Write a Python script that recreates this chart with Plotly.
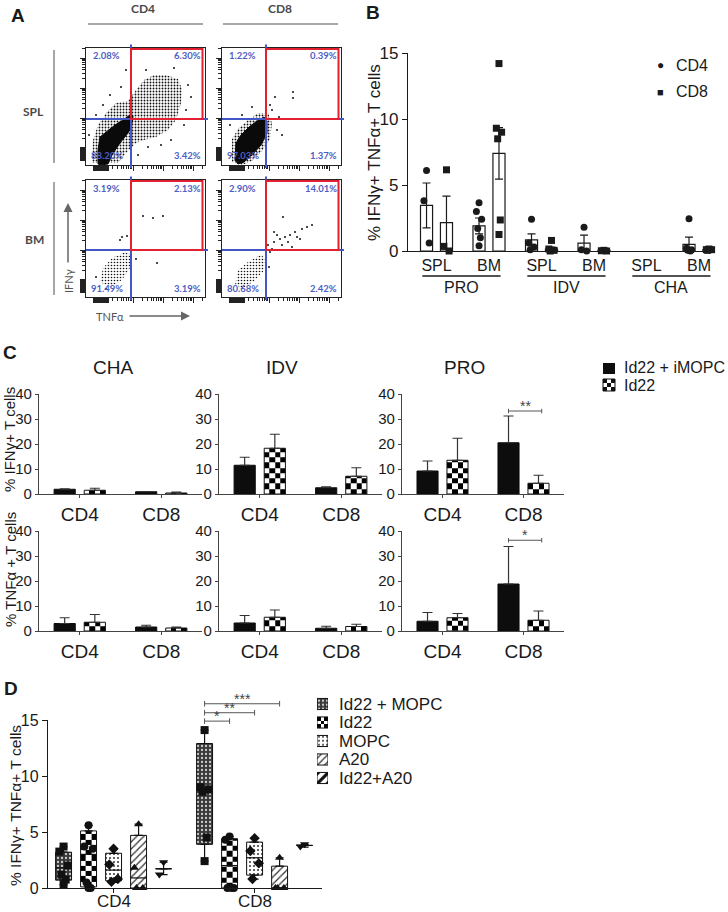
import math
import plotly.graph_objects as go

W, H = 728, 912
FONT = "Liberation Sans, Arial, Helvetica, sans-serif"
AFONT = "Lato, Open Sans, sans-serif"
INK = "#1a1a1a"
BLUE = "#4257c4"
RED = "#e3202f"

# ======================= DATA =======================
# ---- Panel A: flow plots (plot-local units, x 0-119, y 0-117) ----
flow_names = ["SPL CD4", "SPL CD8", "BM CD4", "BM CD8"]
quad_pct = [
    ["2.08%", "6.30%", "88.20%", "3.42%"],
    ["1.22%", "0.39%", "97.03%", "1.37%"],
    ["3.19%", "2.13%", "91.49%", "3.19%"],
    ["2.90%", "14.01%", "80.68%", "2.42%"],
]
gate_x = [45, 44, 45, 44]
gate_y = [46, 46, 47, 47]
core_x = [
    [12, 12, 14, 21, 29, 37, 44, 47, 46, 42, 34, 26, 22, 15],
    [13, 14, 19, 27, 35, 42, 45, 45, 39, 30, 22, 16],
    [],
    [],
]
core_y = [
    [1, 15, 28, 34, 40, 45, 50, 49, 42, 32, 22, 10, 1, 0],
    [5, 22, 30, 38, 44, 48, 44, 32, 20, 10, 3, 1],
    [],
    [],
]
halo_x = [
    [6, 7, 12, 20, 30, 42, 50, 58, 68, 80, 92, 96, 95, 90, 82, 70, 58, 50, 40, 32],
    [10, 10, 16, 26, 36, 46, 50, 48, 40, 30, 20],
    [14, 17, 26, 39, 46, 44, 36, 24],
    [13, 16, 26, 38, 44, 41, 31, 21],
]
halo_y = [
    [2, 25, 40, 52, 62, 64, 75, 85, 90, 90, 86, 76, 62, 45, 35, 28, 25, 22, 12, 2],
    [3, 26, 36, 45, 52, 52, 42, 26, 14, 4, 0],
    [15, 29, 39, 45, 42, 29, 17, 10],
    [12, 27, 35, 42, 39, 25, 15, 9],
]
dots_x = [
    [10, 17, 24, 35, 100, 98, 85, 62, 52, 40, 60, 88, 102, 75, 105, 3],
    [53, 71, 71, 8, 20, 50, 55, 60, 48, 30, 57],
    [57, 67, 77, 34, 36, 71, 41, 48, 10, 50, 20, 45],
    [46, 52, 58, 63, 68, 73, 50, 60, 66, 75, 55, 48, 70, 80, 61, 85, 78, 52, 90, 44, 47],
]
dots_y = [
    [50, 60, 70, 78, 55, 40, 25, 18, 10, 95, 95, 97, 80, 20, 68, 30],
    [68, 73, 67, 40, 50, 55, 35, 30, 60, 58, 48],
    [81, 79, 81, 57, 60, 34, 61, 47, 20, 38, 8, 50],
    [52, 55, 58, 60, 62, 65, 48, 52, 55, 60, 62, 45, 50, 68, 80, 70, 58, 65, 72, 36, 30],
]

# ---- Panel B ----
b_cats = ["SPL", "BM", "SPL", "BM", "SPL", "BM"]
b_groups = ["PRO", "IDV", "CHA"]
b_cd4_mean = [3.45, 1.9, 0.85, 0.6, None, 0.5]
b_cd4_sem = [1.7, 0.6, 0.45, 0.6, None, 0.55]
b_cd8_mean = [2.15, 7.4, 0.15, 0.05, None, 0.1]
b_cd8_sem = [2.0, 1.95, 0.15, 0.03, None, 0.05]
b_cd4_pts = [[6.1, 3.8, 0.6], [3.65, 3.0, 2.4, 1.7, 1.0, 0.4], [2.4, 0.6, 0.3, 0.1],
             [1.8, 0.1, 0.0], [], [2.45, 0.2, 0.1, 0.05, 0.0]]
b_cd8_pts = [[6.15, 0.35, 0.0], [14.2, 9.3, 9.0, 8.5, 2.35, 1.25], [0.8, 0.15, 0.05, 0.0],
             [0.05, 0.02, 0.0], [], [0.15, 0.1, 0.1, 0.05]]

# ---- Panel C ----
c_panels = ["CHA", "IDV", "PRO"]
c_cells = ["CD4", "CD8"]
c_series = ["Id22 + iMOPC", "Id22"]
c_ifn_black = [[1.9, 0.9], [11.5, 2.5], [9.2, 20.5]]
c_ifn_black_sd = [[0.2, 0.05], [3.2, 0.4], [4.0, 10.7]]
c_ifn_check = [[1.5, 0.4], [18.3, 7.1], [13.5, 4.3]]
c_ifn_check_sd = [[0.8, 0.4], [5.6, 3.4], [8.8, 3.2]]
c_tnf_black = [[3.0, 1.6], [3.2, 1.1], [3.9, 18.8]]
c_tnf_black_sd = [[2.3, 0.7], [3.0, 0.8], [3.5, 15.0]]
c_tnf_check = [[3.5, 1.2], [5.5, 1.8], [5.3, 4.3]]
c_tnf_check_sd = [[3.1, 0.4], [2.9, 0.9], [1.7, 3.7]]
c_sig_label = ["**", "*"]
c_sig_y = [33.2, 36.3]

# ---- Panel D ----
d_groups = ["CD4", "CD8"]
d_conds = ["Id22 + MOPC", "Id22", "MOPC", "A20", "Id22+A20"]
d_min = [[0.3, 0.0, 0.5, 0.0, 1.2], [2.4, 0.0, 0.8, 0.0, 3.65]]
d_q1 = [[0.7, 0.1, 0.65, 0.0, 1.72], [3.9, 0.0, 1.15, 0.0, 3.8]]
d_med = [[1.8, 3.0, 1.6, 0.9, 1.72], [8.8, 2.0, 2.7, 0.0, 3.8]]
d_q3 = [[3.2, 5.1, 3.1, 4.7, 1.72], [12.9, 4.4, 4.1, 1.95, 3.8]]
d_max = [[3.7, 5.6, 3.5, 5.7, 2.3], [14.1, 4.6, 4.45, 2.7, 3.9]]
d_pts = [
    [[3.7, 3.25, 2.0, 1.2, 0.75, 0.3], [5.6, 3.7, 3.5, 0.5, 0.0, 0.0], [3.5, 2.1, 0.8, 0.55],
     [5.7, 1.8, 0.0, 0.0], [2.3, 1.2]],
    [[14.1, 9.0, 8.8, 8.6, 4.5, 2.4], [4.6, 4.3, 0.0, 0.0, 0.0], [4.45, 3.3, 2.2, 0.8],
     [2.7, 0.0, 0.0, 0.0], [3.9, 3.7]],
]
d_sig_to = [1, 2, 3]
d_sig_label = ["*", "**", "***"]
d_sig_y = [14.9, 15.65, 16.45]

# ======================= HELPERS =======================
traces, annotations, shapes = [], [], []
layout = dict(template="none", width=W, height=H, margin=dict(l=0, r=0, t=0, b=0, pad=0),
              autosize=False, paper_bgcolor="white", plot_bgcolor="rgba(0,0,0,0)",
              showlegend=False, font=dict(family=FONT, color=INK))


def px_x(p):
    return p / W


def px_y(p):
    return 1 - p / H


def make_axes(n, left, right, top, bottom, xa, ya):
    xk = "xaxis" if n == 1 else f"xaxis{n}"
    yk = "yaxis" if n == 1 else f"yaxis{n}"
    xr = "x" if n == 1 else f"x{n}"
    yr = "y" if n == 1 else f"y{n}"
    layout[xk] = dict(domain=[px_x(left), px_x(right)], anchor=yr, showgrid=False,
                      zeroline=False, fixedrange=True, automargin=False, **xa)
    layout[yk] = dict(domain=[px_y(bottom), px_y(top)], anchor=xr, showgrid=False,
                      zeroline=False, fixedrange=True, automargin=False, **ya)
    return xr, yr


def txt(px, py, s, size, anchor="center", color=INK, family=FONT, bold=False, angle=0):
    annotations.append(dict(x=px_x(px), y=px_y(py), xref="paper", yref="paper",
                            text=f"<b>{s}</b>" if bold else s, showarrow=False,
                            xanchor=anchor, yanchor="middle", textangle=angle,
                            font=dict(size=size, color=color, family=family)))


def checker(xc, w, base, top, ncol, cell_h, xr, yr):
    if top is None or top - base <= 1e-9:
        return
    xe = [xc - w / 2 + w * i / ncol for i in range(ncol + 1)]
    ye = [base]
    while ye[-1] + cell_h < top - 1e-6:
        ye.append(ye[-1] + cell_h)
    ye.append(top)
    z = [[(r + c) % 2 for c in range(ncol)] for r in range(len(ye) - 1)]
    traces.append(go.Heatmap(x=xe, y=ye, z=z, xaxis=xr, yaxis=yr, zmin=0, zmax=1,
                             colorscale=[[0, "white"], [1, "black"]], showscale=False,
                             hoverinfo="skip"))


# ======================= PANEL A =======================
flow_boxes = [(86, 205, 48, 165), (222, 341, 48, 165), (86, 205, 180, 297), (222, 341, 180, 297)]
halo_density = [0.3, 0.3, 0.22, 0.22]
FX, FY = 119, 117
majors = [47, 77, 107]
minors = [d + 30 * math.log10(k) for d in (17, 47, 77, 107) for k in range(2, 10)
          if d + 30 * math.log10(k) <= FX]


def flow_axis(rng, block):
    return dict(range=rng, showline=True, mirror=True, linecolor="#222", linewidth=1,
                ticks="outside", ticklen=5, tickwidth=1, tickcolor="#222",
                tickvals=majors + block, showticklabels=False,
                minor=dict(tickvals=minors, ticks="outside", ticklen=3, tickwidth=1,
                           tickcolor="#222"))


for i in range(4):
    xr, yr = make_axes(i + 1, *flow_boxes[i],
                       xa=flow_axis([0, FX], list(range(7, 23))),
                       ya=flow_axis([0, FY], list(range(5, 19))))
    hx, hy = halo_x[i], halo_y[i]
    traces.append(go.Scatter(x=hx + hx[:1], y=hy + hy[:1], xaxis=xr, yaxis=yr, mode="lines",
                             fill="toself", line=dict(width=0, color="rgba(0,0,0,0)"),
                             fillcolor="rgba(0,0,0,0)",
                             fillpattern=dict(shape=".", fgcolor="#111", fgopacity=1,
                                              bgcolor="rgba(0,0,0,0)", size=3,
                                              solidity=halo_density[i]),
                             hoverinfo="skip"))
    if core_x[i]:
        cx, cy = core_x[i], core_y[i]
        traces.append(go.Scatter(x=cx + cx[:1], y=cy + cy[:1], xaxis=xr, yaxis=yr, mode="lines",
                                 fill="toself", fillcolor="#0a0a0a",
                                 line=dict(width=1, color="#0a0a0a"), hoverinfo="skip"))
    traces.append(go.Scatter(x=dots_x[i], y=dots_y[i], xaxis=xr, yaxis=yr, mode="markers",
                             marker=dict(size=2, color="#111"), hoverinfo="skip"))
    gx, gy = gate_x[i], gate_y[i]
    shapes.append(dict(type="line", xref=xr, yref=f"{yr} domain", x0=gx, x1=gx, y0=-0.025,
                       y1=1.03, line=dict(color=BLUE, width=2)))
    shapes.append(dict(type="line", xref=f"{xr} domain", yref=yr, x0=0, x1=1.025, y0=gy,
                       y1=gy, line=dict(color=BLUE, width=2)))
    shapes.append(dict(type="rect", xref=xr, yref=yr, x0=gx, x1=FX - 2.5, y0=gy, y1=FY - 1,
                       line=dict(color=RED, width=2)))
    pf = dict(size=9.5, color="#4d5ec4", family=AFONT)
    for (lx, ly, anc), s in zip([(20, 109, "center"), (117, 109, "right"),
                                 (3, 9, "left"), (117, 9, "right")], quad_pct[i]):
        annotations.append(dict(x=lx, y=ly, xref=xr, yref=yr, text=f"<b>{s}</b>",
                                showarrow=False, xanchor=anc, yanchor="middle", font=pf))

txt(18, 15, "A", 19, bold=True)
txt(143, 9, "CD4", 12, color="#4a4a4a", family=AFONT, bold=True)
txt(280, 9, "CD8", 12, color="#4a4a4a", family=AFONT, bold=True)
txt(33, 111, "SPL", 12, color="#4a4a4a", family=AFONT, bold=True)
txt(34, 240, "BM", 12, color="#4a4a4a", family=AFONT, bold=True)
txt(68, 281, "IFNγ", 11, color="#555", family=AFONT, angle=-90)
txt(110, 316, "TNFα", 11, color="#555", family=AFONT)
for (x0, y0, x1, y1) in [(88, 24, 203, 24), (223, 24, 338, 24), (54, 50, 54, 163), (54, 182, 54, 295)]:
    shapes.append(dict(type="line", xref="paper", yref="paper", x0=px_x(x0), y0=px_y(y0),
                       x1=px_x(x1), y1=px_y(y1), line=dict(color="#8a8a8a", width=1.5)))
annotations.append(dict(x=px_x(68), y=px_y(203), ax=0, ay=61, xref="paper",
                        yref="paper", axref="pixel", ayref="pixel", text="", showarrow=True,
                        arrowhead=2, arrowsize=1.2, arrowwidth=1.5, arrowcolor="#666"))
annotations.append(dict(x=px_x(190), y=px_y(316), ax=-62, ay=0, xref="paper",
                        yref="paper", axref="pixel", ayref="pixel", text="", showarrow=True,
                        arrowhead=2, arrowsize=1.2, arrowwidth=1.5, arrowcolor="#666"))

# ======================= PANEL B =======================
xr, yr = make_axes(5, 408, 715, 53, 251,
                   xa=dict(range=[-0.543, 5.305], showline=True, linecolor=INK, linewidth=1.3,
                           ticks="", tickvals=list(range(6)), ticktext=b_cats,
                           tickfont=dict(size=16)),
                   ya=dict(range=[0, 15], showline=True, linecolor=INK, linewidth=1.3,
                           ticks="outside", ticklen=5, tickcolor=INK, tickvals=[0, 5, 10, 15],
                           tickfont=dict(size=17)))
off_b = 0.19
b_jit = [0.0, -0.05, 0.05, -0.025, 0.025, 0.0]
for means, sems, pts, sign, sym in [(b_cd4_mean, b_cd4_sem, b_cd4_pts, -1, "circle"),
                                    (b_cd8_mean, b_cd8_sem, b_cd8_pts, 1, "square")]:
    xs = [i + sign * off_b for i in range(len(b_cats))]
    traces.append(go.Bar(x=xs, y=means, width=0.23, xaxis=xr, yaxis=yr,
                         marker=dict(color="white", line=dict(color=INK, width=1.2)),
                         error_y=dict(type="data", array=sems, color=INK, thickness=1.2, width=4),
                         hoverinfo="skip"))
    px_, py_ = [], []
    for i, plist in enumerate(pts):
        for j, v in enumerate(plist):
            px_.append(xs[i] + b_jit[j % len(b_jit)])
            py_.append(v)
    traces.append(go.Scatter(x=px_, y=py_, xaxis=xr, yaxis=yr, mode="markers", cliponaxis=False,
                             marker=dict(symbol=sym, size=7, color=INK), hoverinfo="skip"))
for g, name in enumerate(b_groups):
    shapes.append(dict(type="line", xref=xr, yref="paper", x0=2 * g - 0.27, x1=2 * g + 1.22,
                       y0=px_y(276), y1=px_y(276), line=dict(color=INK, width=1.3)))
    annotations.append(dict(x=2 * g + 0.47, y=px_y(287), xref=xr, yref="paper", text=name,
                            showarrow=False, xanchor="center", yanchor="middle",
                            font=dict(size=16, color=INK)))
txt(373, 13, "B", 19, bold=True)
txt(375, 152, "% IFNγ+ TNFα+ T cells", 17, angle=-90)
txt(660, 65, "●", 12)
txt(660, 92, "■", 11)
txt(674, 65, "CD4", 16, anchor="left")
txt(674, 92, "CD8", 16, anchor="left")

# ======================= PANEL C =======================
c_cols = [(39, 202), (219, 382), (402, 564)]
c_rows = [(394, 494), (531, 631)]
off_c, w_c = 0.185, 0.26
c_data = [(c_ifn_black, c_ifn_black_sd, c_ifn_check, c_ifn_check_sd),
          (c_tnf_black, c_tnf_black_sd, c_tnf_check, c_tnf_check_sd)]
for r in range(2):
    for c in range(3):
        n = 6 + r * 3 + c
        xr, yr = make_axes(n, c_cols[c][0], c_cols[c][1], c_rows[r][0], c_rows[r][1],
                           xa=dict(range=[-0.5, 1.5], showline=True, linecolor="#444",
                                   linewidth=1.3, ticks="outside", ticklen=3, tickcolor="#444",
                                   tickvals=[0, 1], ticktext=c_cells, tickfont=dict(size=19)),
                           ya=dict(range=[0, 40], showline=True, linecolor="#444",
                                   linewidth=1.3, ticks="outside", ticklen=3, tickcolor="#444",
                                   tickvals=[0, 10, 20, 30, 40], tickfont=dict(size=15)))
        blk, blk_sd, chk, chk_sd = c_data[r]
        xb = [k - off_c for k in range(2)]
        xc = [k + off_c for k in range(2)]
        for k in range(2):
            checker(xc[k], w_c, 0, chk[c][k], 4, 2.1, xr, yr)
        traces.append(go.Bar(x=xb, y=blk[c], width=w_c, xaxis=xr, yaxis=yr,
                             marker=dict(color="#0d0d0d", line=dict(color="#0d0d0d", width=1)),
                             error_y=dict(type="data", symmetric=False, array=blk_sd[c],
                                          arrayminus=[0, 0], color="#333", thickness=1.2, width=5),
                             hoverinfo="skip"))
        traces.append(go.Bar(x=xc, y=chk[c], width=w_c, xaxis=xr, yaxis=yr,
                             marker=dict(color="rgba(0,0,0,0)", line=dict(color="#111", width=1)),
                             error_y=dict(type="data", symmetric=False, array=chk_sd[c],
                                          arrayminus=[0, 0], color="#333", thickness=1.2, width=5),
                             hoverinfo="skip"))
        if c == 2:
            yv = c_sig_y[r]
            x0, x1 = xb[1], xc[1] + 0.04
            traces.append(go.Scatter(x=[x0, x0, None, x0, x1, None, x1, x1],
                                     y=[yv - 0.9, yv + 0.9, None, yv, yv, None, yv - 0.9, yv + 0.9],
                                     xaxis=xr, yaxis=yr, mode="lines", cliponaxis=False,
                                     line=dict(color="#555", width=1), hoverinfo="skip"))
            annotations.append(dict(x=(x0 + x1) / 2, y=yv, xref=xr, yref=yr, text=c_sig_label[r],
                                    showarrow=False, xanchor="center", yanchor="bottom", yshift=-5,
                                    font=dict(size=14, color="#444")))
txt(10, 352, "C", 19, bold=True)
txt(113, 367, "CHA", 19)
txt(282, 367, "IDV", 19)
txt(465, 367, "PRO", 19)
txt(10, 440, "% IFNγ+ T cells", 15, angle=-90)
txt(10, 570, "% TNFα + T cells", 15, angle=-90)
# legend C
shapes.append(dict(type="rect", xref="paper", yref="paper", x0=px_x(603), x1=px_x(615),
                   y0=px_y(374), y1=px_y(363), fillcolor="#0d0d0d", line=dict(width=0)))
for rr in range(3):
    for cc in range(3):
        if (rr + cc) % 2 == 0:
            shapes.append(dict(type="rect", xref="paper", yref="paper",
                               x0=px_x(603 + 4 * cc), x1=px_x(607 + 4 * cc),
                               y0=px_y(383 + 4 * rr), y1=px_y(379 + 4 * rr),
                               fillcolor="#111", line=dict(width=0)))
shapes.append(dict(type="rect", xref="paper", yref="paper", x0=px_x(603), x1=px_x(615),
                   y0=px_y(391), y1=px_y(379), line=dict(color="#111", width=1)))
txt(622, 368, c_series[0], 16, anchor="left")
txt(622, 385, c_series[1], 16, anchor="left")

# ======================= PANEL D =======================
D_YMAX = 15
xr, yr = make_axes(12, 48, 322, 720, 888,
                   xa=dict(range=[-0.465, 1.478], showline=True, linecolor=INK, linewidth=1.3,
                           ticks="outside", ticklen=4, tickcolor=INK, tickvals=[0, 1],
                           showticklabels=False),
                   ya=dict(range=[0, D_YMAX], showline=True, linecolor=INK, linewidth=1.3,
                           ticks="outside", ticklen=5, tickcolor=INK, tickvals=[0, 5, 10, 15],
                           tickfont=dict(size=16)))
for g, name in enumerate(d_groups):
    annotations.append(dict(x=g, y=px_y(901), xref=xr, yref="paper", text=name, showarrow=False,
                            xanchor="center", yanchor="middle", font=dict(size=17, color=INK)))
d_step, d_w = 0.1773, 0.113
d_pat = [dict(shape=".", fillmode="replace", bgcolor="#3a3a3a", fgcolor="#cfcfcf", size=4, solidity=0.25),
         None,
         dict(shape=".", fillmode="replace", bgcolor="white", fgcolor="#333", size=4, solidity=0.2),
         dict(shape="/", fillmode="replace", bgcolor="white", fgcolor="#333", size=5, solidity=0.25),
         dict(shape="/", fillmode="replace", bgcolor="white", fgcolor="#111", size=7, solidity=0.45)]
d_sym = ["square", "circle", "diamond", "triangle-up", "triangle-down"]
d_jit = [0.0, -0.03, 0.03, -0.015, 0.015, 0.0]
for k in range(5):
    xs = [g + (k - 2) * d_step for g in range(2)]
    q1 = [d_q1[g][k] for g in range(2)]
    q3 = [d_q3[g][k] for g in range(2)]
    if d_pat[k] is None:
        for g in range(2):
            checker(xs[g], d_w, q1[g], q3[g], 3, 0.47, xr, yr)
        marker = dict(color="rgba(0,0,0,0)", line=dict(color="#111", width=1))
    else:
        marker = dict(color=d_pat[k]["bgcolor"], pattern=d_pat[k], line=dict(color="#111", width=1))
    traces.append(go.Bar(x=xs, y=[b - a for a, b in zip(q1, q3)], base=q1, width=d_w,
                         xaxis=xr, yaxis=yr, marker=marker, hoverinfo="skip"))
for k in range(5):
    xs = [g + (k - 2) * d_step for g in range(2)]
    wx, wy, wp, wm = [], [], [], []
    mx, my = [], []
    for g in range(2):
        wx += [xs[g], xs[g]]
        wy += [d_q3[g][k], d_q1[g][k]]
        wp += [d_max[g][k] - d_q3[g][k], 0]
        wm += [0, d_q1[g][k] - d_min[g][k]]
        mx += [xs[g] - d_w / 2, xs[g] + d_w / 2, None]
        my += [d_med[g][k], d_med[g][k], None]
    traces.append(go.Scatter(x=wx, y=wy, xaxis=xr, yaxis=yr, mode="markers", cliponaxis=False,
                             marker=dict(size=1, color="rgba(0,0,0,0)"),
                             error_y=dict(type="data", symmetric=False, array=wp, arrayminus=wm,
                                          color="#111", thickness=1.2, width=4),
                             hoverinfo="skip"))
    traces.append(go.Scatter(x=mx, y=my, xaxis=xr, yaxis=yr, mode="lines",
                             line=dict(color="#111", width=1.2), hoverinfo="skip"))
    px_, py_ = [], []
    for g in range(2):
        for j, v in enumerate(d_pts[g][k]):
            px_.append(xs[g] + d_jit[j % len(d_jit)])
            py_.append(v)
    traces.append(go.Scatter(x=px_, y=py_, xaxis=xr, yaxis=yr, mode="markers", cliponaxis=False,
                             marker=dict(symbol=d_sym[k], size=8, color="#111"), hoverinfo="skip"))
x_ref0 = 1 + (0 - 2) * d_step
for t, lab, yv in zip(d_sig_to, d_sig_label, d_sig_y):
    x1 = 1 + (t - 2) * d_step
    f = yv / D_YMAX
    e = 0.25 / D_YMAX
    for (sx0, sx1, sy0, sy1) in [(x_ref0, x1, f, f), (x_ref0, x_ref0, f - e, f + e), (x1, x1, f - e, f + e)]:
        shapes.append(dict(type="line", xref=xr, yref=f"{yr} domain", x0=sx0, x1=sx1, y0=sy0,
                           y1=sy1, line=dict(color="#555", width=1)))
    annotations.append(dict(x=(x_ref0 + x1) / 2, y=f, xref=xr, yref=f"{yr} domain", text=lab,
                            showarrow=False, xanchor="center", yanchor="bottom", yshift=-5,
                            font=dict(size=14, color="#444")))
txt(11, 688, "D", 19, bold=True)
txt(15, 806, "% IFNγ+ TNFα+ T cells", 15.5, angle=-90)

# legend D (swatches on a small hidden axis)
lxr, lyr = make_axes(13, 317, 328, 694.75, 787.25,
                     xa=dict(range=[0, 1], visible=False),
                     ya=dict(range=[4.5, -0.5], visible=False))
for k in range(5):
    if d_pat[k] is None:
        xe = [0, 1 / 3, 2 / 3, 1]
        ye = [k - 0.3, k - 0.1, k + 0.1, k + 0.3]
        traces.append(go.Heatmap(x=xe, y=ye, z=[[(a + b) % 2 for b in range(3)] for a in range(3)],
                                 xaxis=lxr, yaxis=lyr, zmin=0, zmax=1, showscale=False,
                                 colorscale=[[0, "black"], [1, "white"]], hoverinfo="skip"))
        marker = dict(color="rgba(0,0,0,0)", line=dict(color="#111", width=1))
    else:
        marker = dict(color=d_pat[k]["bgcolor"], pattern=d_pat[k], line=dict(color="#111", width=1))
    traces.append(go.Bar(x=[1], y=[k], base=0, orientation="h", width=0.6, xaxis=lxr, yaxis=lyr,
                         marker=marker, hoverinfo="skip"))
    txt(337, 704 + 18.5 * k, d_conds[k], 17, anchor="left")

layout["annotations"] = annotations
layout["shapes"] = shapes
fig = go.Figure(data=traces, layout=layout)
fig.write_html("out.html", config={"displayModeBar": False},
               post_script="document.body.style.margin='0';")
